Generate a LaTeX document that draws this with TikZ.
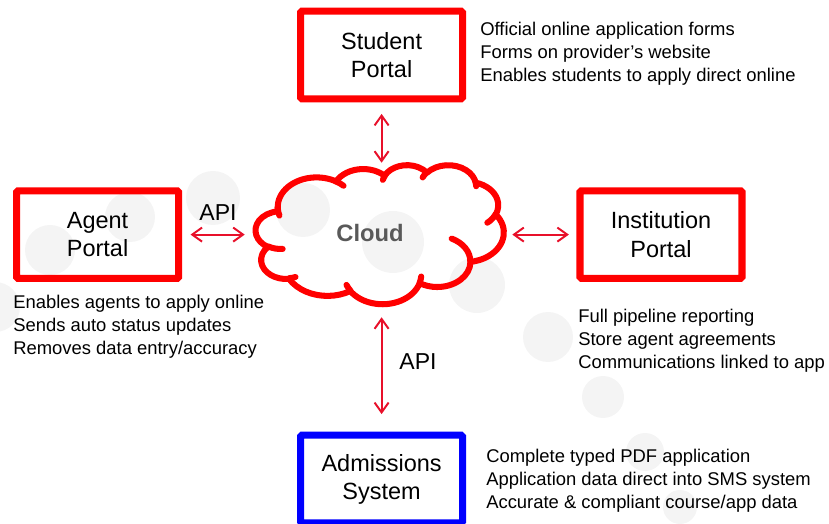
\documentclass[tikz,border=0pt]{standalone}
\usepackage{fontspec}
\setmainfont{Liberation Sans}
\usetikzlibrary{arrows.meta}
\definecolor{portalred}{HTML}{FF0000}
\definecolor{linkred}{HTML}{E8102A}
\definecolor{sysblue}{HTML}{0000FF}
\definecolor{cloudgray}{HTML}{595959}
\definecolor{dotgray}{HTML}{F4F4F4}

\begin{document}
\begin{tikzpicture}[
  portal/.style={draw=portalred, line width=5pt, rounded corners=1pt,
    minimum width=4.05cm, minimum height=2.19cm, align=center,
    font=\fontsize{16.7}{20}\selectfont},
  system/.style={portal, draw=sysblue},
  notes/.style={anchor=west, align=left, inner sep=0pt,
    font=\fontsize{13.1}{16.3}\selectfont},
  link/.style={draw=linkred, line width=1.4pt,
    {Straight Barb[length=7pt,width=10pt]}-{Straight Barb[length=7pt,width=10pt]}},
  api/.style={font=\fontsize{16.4}{20}\selectfont},
  cloudline/.style={draw=portalred, line width=4.3pt, line join=round}
]
\useasboundingbox (0,0) rectangle (20.725,13.075);

% faint dots behind everything
\foreach \x/\y/\r in {-0.125/5.40/0.625, 1.25/6.825/0.625, 3.25/7.65/0.625,
    5.325/8.125/0.675, 7.575/7.825/0.675, 9.825/7.025/0.775, 11.925/5.95/0.70,
    13.70/4.65/0.625, 15.075/3.15/0.525, 16.125/1.775/0.475, 17.00/0.40/0.425}{
  \fill[dotgray] (\x,\y) circle (\r);
}

% =======================
% Cloud in the middle
% =======================
\node[minimum width=6.2cm, minimum height=3.475cm, inner sep=0pt] (cloud) at (9.50,7.2125) {};

% outline and inner curls, drawn in a 43.2 x 43.2 frame
% (arc angles are given along the ray, so turn them into ellipse parameters)
\begin{scope}[shift={(cloud.north west)}, x=6.2cm/43.2, y=-3.475cm/43.2]
\draw[cloudline] (3.9,14.37)
  \foreach \rx/\ry/\sa/\sw in {
      6.753/9.190/-190.4875/123.7805, 5.333/7.267/-144.1024/89.9452,
      4.365/5.945/-145.8079/99.7230,  4.857/6.595/-130.9861/117.2417,
      5.333/7.273/-78.7089/109.0269,  6.775/9.220/-46.2673/130.2690,
      5.785/7.867/0.6250/114.0333,    6.752/9.215/22.4516/115.1726,
      7.720/10.543/66.2426/75.7110,   4.360/5.918/-274.9421/146.7356,
      4.345/5.945/-246.8285/152.5189}{
    arc[x radius=\rx, y radius=\ry,
        start angle={atan2(\rx*sin(\sa),\ry*cos(\sa))},
        delta angle={mod(atan2(\rx*sin(\sa+\sw),\ry*cos(\sa+\sw))-atan2(\rx*sin(\sa),\ry*cos(\sa))+720,360)}]
  } -- cycle;
\draw[cloudline, line cap=round]
  \foreach \px/\py/\rx/\ry/\sa/\sw in {
      4.693/26.177/4.345/5.945/86.7420/26.4295,
      6.928/34.899/4.360/5.918/73.6105/11.4475,
      16.478/39.090/6.752/9.215/137.6242/14.0811,
      28.827/34.751/6.752/9.215/6.4533/15.9984,
      34.129/22.954/5.785/7.867/-70.2924/70.9174,
      41.798/15.354/5.333/7.273/30.3180/27.7515,
      38.324/5.426/4.857/6.595/-13.7443/14.8589,
      29.078/3.952/4.857/6.595/-149.1815/18.1954,
      22.141/4.720/4.365/5.945/-163.4943/17.6864,
      14.000/5.192/6.753/9.190/-66.7070/12.3194,
      4.127/15.789/6.753/9.190/155.6472/21.3342}{
    (\px,\py) arc[x radius=\rx, y radius=\ry,
        start angle={atan2(\rx*sin(\sa),\ry*cos(\sa))},
        delta angle={mod(atan2(\rx*sin(\sa+\sw),\ry*cos(\sa+\sw))-atan2(\rx*sin(\sa),\ry*cos(\sa))+720,360)}]
  };
\end{scope}
\node[font=\bfseries\fontsize{16.9}{20}\selectfont, text=cloudgray] (cloudlbl) at (9.25,7.25) {Cloud};

% =======================
% Portals
% =======================
\node[portal] (student) at (9.54,11.70) {Student\\Portal};
\node[portal] (agent) at (2.44,7.21) {Agent\\Portal};
\node[portal] (inst) at (16.525,7.21) {Institution\\Portal};
\node[system] (adm) at (9.54,1.10) {Admissions\\System};

% Notes next to each box
\node[notes] (studentnotes) at (12.00,11.73) {Official online application forms\\Forms on provider's website\\Enables students to apply direct online};
\node[notes] (agentnotes) at (0.325,4.90) {Enables agents to apply online\\Sends auto status updates\\Removes data entry/accuracy};
\node[notes] (instnotes) at (14.45,4.56) {Full pipeline reporting\\Store agent agreements\\Communications linked to app};
\node[notes] (admnotes) at (12.15,1.06) {Complete typed PDF application\\Application data direct into SMS system\\Accurate \& compliant course/app data};

% =======================
% Links to the cloud
% =======================
\draw[link, shorten <=0.29cm, shorten >=0.05cm] (student.south) -- (student.south |- cloud.north);
\draw[link, shorten <=0.21cm, shorten >=0.275cm] (agent.east) -- (agent.east -| cloud.west);
\draw[link, shorten <=0.2cm, shorten >=0.19cm] (inst.west -| cloud.east) -- (inst.west);
\draw[link, shorten <=0.325cm, shorten >=0.44cm] (adm.north |- cloud.south) -- (adm.north);

\node[api] (api1) at (5.45,7.75) {API};
\node[api] (api2) at (10.45,4.025) {API};

\end{tikzpicture}
\end{document}
